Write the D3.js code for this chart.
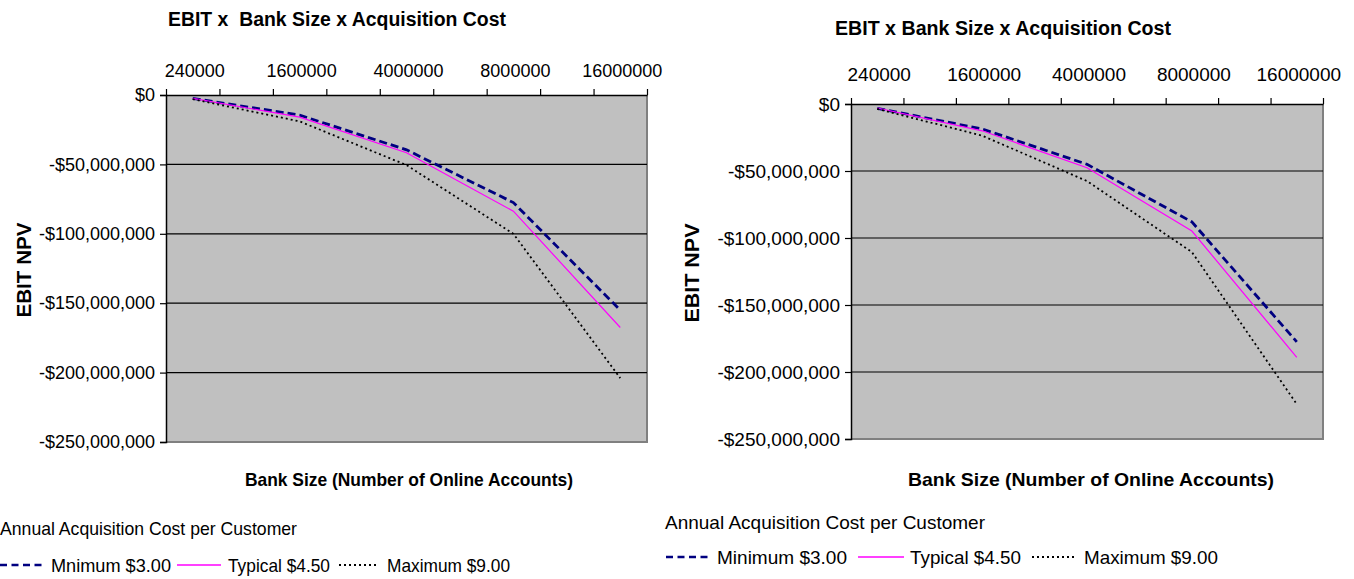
<!DOCTYPE html>
<html>
<head>
<meta charset="utf-8">
<script src="https://cdn.jsdelivr.net/npm/d3@7"></script>
<style>
  html, body { margin: 0; padding: 0; background: #ffffff; }
  svg { display: block; font-family: "Liberation Sans", Arial, sans-serif; }
  text { white-space: pre; }
</style>
</head>
<body>
<svg id="chart" width="1354" height="579"></svg>
<script>
// ---------------- DATA ----------------
const tickLabels = ["240000", "1600000", "4000000", "8000000", "16000000"];
const yTicks = [0, -50e6, -100e6, -150e6, -200e6, -250e6];
const seriesNamesLeft = ["Mnimum $3.00", "Typical $4.50", "Maximum $9.00"];
const seriesNamesRight = ["Minimum $3.00", "Typical $4.50", "Maximum $9.00"];
const legendTitle = "Annual Acquisition Cost per Customer";
const chartTitleLeft = "EBIT x  Bank Size x Acquisition Cost";
const chartTitleRight = "EBIT x Bank Size x Acquisition Cost";
const yTitle = "EBIT NPV";
const xTitle = "Bank Size (Number of Online Accounts)";

// EBIT NPV ($) per bank size
const leftMinimum = [-2.4e6, -14.5e6, -39.5e6, -77.5e6, -155e6];
const leftTypical = [-2.4e6, -16e6, -41.6e6, -83.7e6, -167.5e6];
const leftMaximum = [-3.0e6, -19e6, -50.5e6, -100e6, -204e6];

const rightMinimum = [-3.2e6, -18.6e6, -45e6, -88e6, -177.5e6];
const rightTypical = [-3.0e6, -20e6, -47.6e6, -94.8e6, -189e6];
const rightMaximum = [-3.7e6, -23.6e6, -57.5e6, -110.5e6, -224e6];

// ---------------- STYLE / LAYOUT ----------------
const styles = [
  { stroke: "#000080", width: 2.8, dash: "8,4" },
  { stroke: "#ff00ff", width: 1.2, dash: null },
  { stroke: "#000000", width: 1.8, dash: "2,3" }
];
const SLOTS = 9; // category slots on the x axis (labels every other slot)

const svg = d3.select("#chart");
const fmt = v => (v < 0 ? "-" : "") + "$" + d3.format(",")(Math.abs(v));

function fitText(sel, len) {
  return sel.attr("textLength", len).attr("lengthAdjust", "spacingAndGlyphs");
}

function drawChart(cfg) {
  const g = svg.append("g");
  const p = cfg.plot;
  const x = d3.scaleLinear().domain([0, SLOTS]).range([p.x0, p.x1]);
  const y = d3.scaleLinear().domain([-250e6, 0]).range([p.y1, p.y0]);
  const slotOf = i => i * 2 + 0.5;

  // plot background
  g.append("rect").attr("x", p.x0).attr("y", p.y0)
    .attr("width", p.x1 - p.x0).attr("height", p.y1 - p.y0)
    .attr("fill", "#c0c0c0");
  // right/bottom grey border
  g.append("path")
    .attr("d", `M${p.x1},${p.y0}V${p.y1}H${p.x0}`)
    .attr("fill", "none").attr("stroke", "#808080").attr("stroke-width", 2);

  // gridlines
  g.selectAll(".grid").data(yTicks.filter(v => v !== 0 && v !== -250e6)).enter()
    .append("line")
    .attr("x1", p.x0).attr("x2", p.x1)
    .attr("y1", d => y(d)).attr("y2", d => y(d))
    .attr("stroke", "#000").attr("stroke-width", 1.2);

  // left axis
  const yAxis = d3.axisLeft(y).tickValues(yTicks).tickFormat(fmt).tickSize(6).tickPadding(5);
  const ya = g.append("g").attr("transform", `translate(${p.x0},0)`).call(yAxis);
  ya.select(".domain").attr("stroke", "#000").attr("stroke-width", 1.5);
  ya.selectAll(".tick line").attr("stroke", "#000").attr("stroke-width", 1.2);
  ya.selectAll(".tick text").attr("fill", "#000")
    .style("font-size", cfg.tickFont + "px").style("letter-spacing", cfg.tickLs + "px");

  // top axis: tick marks at slot boundaries
  const xAxis = d3.axisTop(x).tickValues(d3.range(0, SLOTS + 1)).tickFormat("").tickSize(6).tickSizeOuter(0);
  const xa = g.append("g").attr("transform", `translate(0,${p.y0})`).call(xAxis);
  xa.select(".domain").attr("stroke", "#000").attr("stroke-width", 1.5);
  xa.selectAll(".tick line").attr("stroke", "#000").attr("stroke-width", 1.2);

  // top category labels
  g.selectAll(".xl").data(tickLabels).enter().append("text")
    .attr("x", (d, i) => x(slotOf(i)) + cfg.xLabelShift)
    .attr("y", cfg.xLabelY).attr("dy", "0.35em")
    .attr("text-anchor", "middle")
    .style("font-size", cfg.tickFont + "px").style("letter-spacing", cfg.tickLs + "px")
    .text(d => d);

  // lines
  const line = d3.line().x((d, i) => x(slotOf(i))).y(d => y(d));
  cfg.series.forEach((s, k) => {
    const st = styles[k];
    g.append("path").datum(s)
      .attr("d", line)
      .attr("fill", "none")
      .attr("stroke", st.stroke)
      .attr("stroke-width", st.width)
      .attr("stroke-dasharray", st.dash);
  });

  // titles
  fitText(g.append("text").attr("x", cfg.titleX).attr("y", cfg.titleY)
    .attr("dy", "0.35em")
    .style("font-size", "20px").style("font-weight", "bold")
    .text(cfg.title), cfg.titleLen);
  fitText(g.append("text").attr("x", cfg.xTitleX).attr("y", cfg.xTitleY)
    .attr("dy", "0.35em").attr("text-anchor", "middle")
    .style("font-size", "19px").style("font-weight", "bold")
    .text(xTitle), cfg.xTitleLen);
  fitText(g.append("text")
    .attr("transform", `translate(${cfg.yTitleX},${cfg.yTitleY}) rotate(-90)`)
    .attr("dy", "0.35em").attr("text-anchor", "middle")
    .style("font-size", "20px").style("font-weight", "bold")
    .text(yTitle), cfg.yTitleLen);

  // legend
  const L = cfg.legend;
  fitText(g.append("text").attr("x", L.titleX).attr("y", L.titleY).attr("dy", "0.35em")
    .style("font-size", "19px")
    .text(legendTitle), L.titleLen);
  L.items.forEach((it, k) => {
    const st = styles[k];
    g.append("line").attr("x1", it[0]).attr("x2", it[1])
      .attr("y1", L.itemY).attr("y2", L.itemY)
      .attr("stroke", st.stroke).attr("stroke-width", k === 0 ? 2.4 : (k === 1 ? 1.5 : 2))
      .attr("stroke-dasharray", k === 0 ? "7,4.5" : st.dash);
    fitText(g.append("text").attr("x", it[2]).attr("y", L.itemY).attr("dy", "0.35em")
      .style("font-size", "19px")
      .text(cfg.names[k]), it[3]);
  });
}

drawChart({
  plot: { x0: 166, x1: 647, y0: 95, y1: 442 },
  series: [leftMinimum, leftTypical, leftMaximum],
  names: seriesNamesLeft,
  title: chartTitleLeft, titleX: 168, titleY: 19, titleLen: 338,
  tickFont: 18, tickLs: 0, xLabelY: 71, xLabelShift: 2,
  xTitleX: 409, xTitleY: 479, xTitleLen: 328,
  yTitleX: 24, yTitleY: 270, yTitleLen: 95,
  legend: { titleX: 0, titleY: 528, itemY: 565, titleLen: 297,
    items: [[0, 45, 51, 120], [177, 221, 228, 102], [339, 378, 387, 123]] }
});

drawChart({
  plot: { x0: 851, x1: 1323, y0: 104, y1: 439 },
  series: [rightMinimum, rightTypical, rightMaximum],
  names: seriesNamesRight,
  title: chartTitleRight, titleX: 835, titleY: 28, titleLen: 336,
  tickFont: 19, tickLs: 0, xLabelY: 74, xLabelShift: 2,
  xTitleX: 1091, xTitleY: 479, xTitleLen: 366,
  yTitleX: 692, yTitleY: 273, yTitleLen: 99,
  legend: { titleX: 665, titleY: 522, itemY: 557, titleLen: 320,
    items: [[666, 712, 717, 130], [858, 904, 910, 111], [1032, 1076, 1084, 134]] }
});
</script>
</body>
</html>
